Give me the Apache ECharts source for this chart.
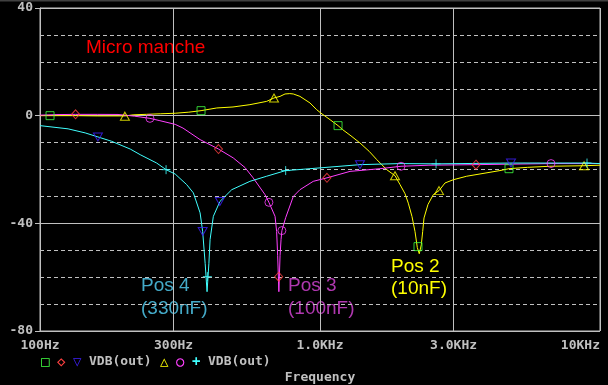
<!DOCTYPE html>
<html><head><meta charset="utf-8">
<script src="https://cdn.jsdelivr.net/npm/echarts@6/dist/echarts.min.js"></script>
<style>html,body{margin:0;padding:0;background:#000;}#c{width:608px;height:385px;}</style>
</head><body><div id="c"></div>
<script>
// ---- data (frequency in Hz, level in dB) ----
const xTickValues = [100, 300, 1000, 3000, 10000];
const xTickLabels = ['100Hz', '300Hz', '1.0KHz', '3.0KHz', '10KHz'];

const pos2 = [[100,0],[115,0],[134,0],[160,-0.1],[201,-0.1],[215,0.3],[240,0.5],[270,0.7],[304,0.9],[340,1.3],[376,1.86],[428,2.86],[489,3.23],[562,4.09],[645,5.31],[685,6.57],[720,7.17],[750,8.06],[780,8.2],[803,8.06],[848,7.17],[921,4.72],[973,2.23],[1006,1.0],[1086,-1.49],[1160,-3.71],[1205,-5.2],[1290,-7.5],[1389,-10.14],[1500,-13.3],[1594,-16.3],[1731,-20.06],[1853,-22.3],[1931,-25.6],[2012,-29.0],[2067,-32.5],[2131,-37.5],[2184,-43],[2226,-49],[2262,-51.3],[2300,-48],[2327,-43],[2352,-38],[2430,-33],[2540,-29.3],[2661,-27.85],[2796,-25],[2994,-23.8],[3342,-22.5],[4394,-20.4],[4732,-19.7],[5500,-19.2],[6610,-18.8],[8769,-18.6],[10000,-18.4]];

const pos3 = [[100,0.2],[115,0.4],[134,0.48],[160,0.48],[190,0.45],[205,0.1],[218,-0.2],[247,-1.0],[268,-1.86],[304,-3.23],[324,-4.6],[373,-8.9],[434,-12.4],[490,-15.7],[540,-19.3],[577,-23.1],[636,-29.3],[657,-32.2],[691,-37.4],[700,-43],[706,-52],[713,-65.4],[720,-52],[726,-46],[731,-42.7],[754,-37.9],[803,-30],[848,-27.5],[946,-24.4],[1059,-23.1],[1280,-20.7],[1638,-19.7],[1947,-18.8],[2450,-18.4],[3607,-18.2],[6683,-17.8],[10000,-17.8]];

const pos4 = [[100,-3.7],[126,-4.9],[145,-6.4],[161,-7.9],[180,-9.5],[210,-12.4],[228,-14.5],[261,-17.6],[282,-20.06],[304,-21.7],[334,-25.6],[353,-28.7],[373,-36.1],[381,-43],[389,-55],[395,-65.4],[401,-55],[405,-46],[416,-37.4],[439,-31.9],[484,-27.5],[562,-24.4],[645,-22.5],[754,-20.4],[848,-20.0],[1000,-19.4],[1389,-18.2],[1931,-17.8],[2597,-17.9],[4810,-17.6],[8987,-17.6],[10000,-17.8]];

// trace markers
const greenSquares = [[108.6,0],[376,1.86],[1160,-3.7],[2239,-48.65],[4732,-19.7]];
const redDiamonds = [[134,0.48],[434,-12.4],[712,-59.8],[1059,-23.1],[3607,-18.2]];
const blueTriangles = [[161,-7.9],[381,-43],[439,-31.9],[1389,-18.2],[4810,-17.6]];
const yellowTriangles = [[201,-0.19],[685,6.57],[1853,-22.3],[2661,-27.85],[8769,-18.6]];
const magentaCircles = [[247,-1.0],[657,-32.2],[731,-42.7],[1947,-18.8],[6683,-17.8]];
const cyanPluses = [[282,-20.06],[396,-59.8],[754,-20.4],[2597,-17.9],[8987,-17.6]];

const GRID = '#c0c0c0';
const MONO = 'DejaVu Sans Mono';

function xLabel(v) {
  for (let i = 0; i < xTickValues.length; i++) {
    if (Math.abs(v - xTickValues[i]) / xTickValues[i] < 0.01) return xTickLabels[i];
  }
  return '';
}
function lineSeries(data, color) {
  return { type: 'line', data: data, yAxisIndex: 1, symbol: 'none', showSymbol: false,
    lineStyle: { color: color, width: 1 }, silent: true, animation: false, z: 3 };
}
function markerSeries(data, symbol, color, size, rotate) {
  return { type: 'scatter', data: data, yAxisIndex: 1, symbol: symbol, symbolSize: size,
    symbolRotate: rotate || 0,
    itemStyle: { color: 'rgba(0,0,0,0)', borderColor: color, borderWidth: 1 },
    silent: true, animation: false, z: 5 };
}

const chart = echarts.init(document.getElementById('c'), null, { renderer: 'canvas' });
chart.setOption({
  backgroundColor: '#000',
  animation: false,
  grid: { left: 40, right: 8, top: 8, bottom: 54, outerBoundsMode: 'none', containLabel: false,
    show: true, borderColor: GRID, borderWidth: 1, backgroundColor: 'rgba(0,0,0,0)' },
  xAxis: {
    type: 'log', logBase: 10, min: 100, max: 10000,
    axisLine: { show: true, lineStyle: { color: GRID, width: 1 } },
    axisTick: { show: true, length: 5, customValues: xTickValues, lineStyle: { color: GRID } },
    axisLabel: { customValues: xTickValues, formatter: xLabel, color: GRID, fontFamily: MONO, fontWeight: 'bold', fontSize: 13, margin: 8, alignMaxLabel: 'right' },
    splitLine: { show: true, lineStyle: { color: GRID, width: 1 } },
    minorTick: { show: false }, minorSplitLine: { show: false },
    name: 'Frequency', nameLocation: 'middle', nameGap: 40,
    nameTextStyle: { color: GRID, fontFamily: MONO, fontWeight: 'bold', fontSize: 13 }
  },
  yAxis: [
    { type: 'value', min: -80, max: 40, interval: 10, position: 'right',
      axisLine: { show: false }, axisTick: { show: false }, axisLabel: { show: false },
      splitLine: { show: true, lineStyle: { color: GRID, width: 1, type: [4, 3] } } },
    { type: 'value', min: -80, max: 40, interval: 40, position: 'left',
      axisLine: { show: true, lineStyle: { color: GRID, width: 1 } },
      axisTick: { show: true, length: 5, lineStyle: { color: GRID } },
      axisLabel: { color: GRID, fontFamily: MONO, fontWeight: 'bold', fontSize: 13, margin: 7 },
      splitLine: { show: true, lineStyle: { color: GRID, width: 1 } } }
  ],
  title: {
    left: 41, top: 355, padding: 0,
    text: '{sq|□}{di|◇}{tr|▽}{t|VDB(out)}{ut|△}{ci|○}{pl|+}{t2|VDB(out)}',
    textStyle: {
      fontFamily: MONO, fontSize: 13, fontWeight: 'bold', color: GRID,
      rich: {
        sq: { color: '#40ff40', width: 16, fontFamily: MONO, fontSize: 14 },
        di: { color: '#ff4040', width: 16, fontFamily: MONO, fontSize: 14 },
        tr: { color: '#4020ff', width: 16, fontFamily: MONO, fontSize: 14 },
        t: { color: GRID, width: 71, fontFamily: MONO, fontSize: 13, fontWeight: 'bold' },
        ut: { color: '#ffff00', width: 16, fontFamily: MONO, fontSize: 14 },
        ci: { color: '#ff40ff', width: 16, fontFamily: MONO, fontSize: 14 },
        pl: { color: '#40ffff', width: 16, fontFamily: MONO, fontSize: 14, fontWeight: 'bold' },
        t2: { color: GRID, fontFamily: MONO, fontSize: 13, fontWeight: 'bold' }
      }
    }
  },
  graphic: [
    { type: 'line', shape: { x1: 0, y1: 0.5, x2: 608, y2: 0.5 }, style: { stroke: '#404040', lineWidth: 2 }, silent: true },
    { type: 'text', style: { text: 'Micro manche', x: 86, y: 48, verticalAlign: 'middle', font: '19px "Liberation Sans"', fill: '#ff0000' }, silent: true },
    { type: 'text', style: { text: 'Pos 4\n(330nF)', x: 141, y: 274, verticalAlign: 'top', lineHeight: 23, font: '19px "Liberation Sans"', fill: '#44aac8' }, silent: true },
    { type: 'text', style: { text: 'Pos 3\n(100nF)', x: 288, y: 274, verticalAlign: 'top', lineHeight: 23, font: '19px "Liberation Sans"', fill: '#b038b0' }, silent: true },
    { type: 'text', style: { text: 'Pos 2\n(10nF)', x: 391, y: 256, verticalAlign: 'top', lineHeight: 22, font: '19px "Liberation Sans"', fill: '#ffff00' }, silent: true }
  ],
  series: [
    lineSeries(pos2, '#ffff00'),
    lineSeries(pos3, '#ff40ff'),
    lineSeries(pos4, '#40ffff'),
    markerSeries(greenSquares, 'rect', '#40ff40', 8),
    markerSeries(redDiamonds, 'diamond', '#ff4040', [8, 9]),
    markerSeries(blueTriangles, 'triangle', '#4020ff', [9, 8], 180),
    markerSeries(yellowTriangles, 'triangle', '#ffff00', [9, 8]),
    markerSeries(magentaCircles, 'circle', '#ff40ff', 8),
    markerSeries(cyanPluses, 'path://M0,5L10,5M5,0L5,10', '#40ffff', 9)
  ]
});
</script></body></html>
